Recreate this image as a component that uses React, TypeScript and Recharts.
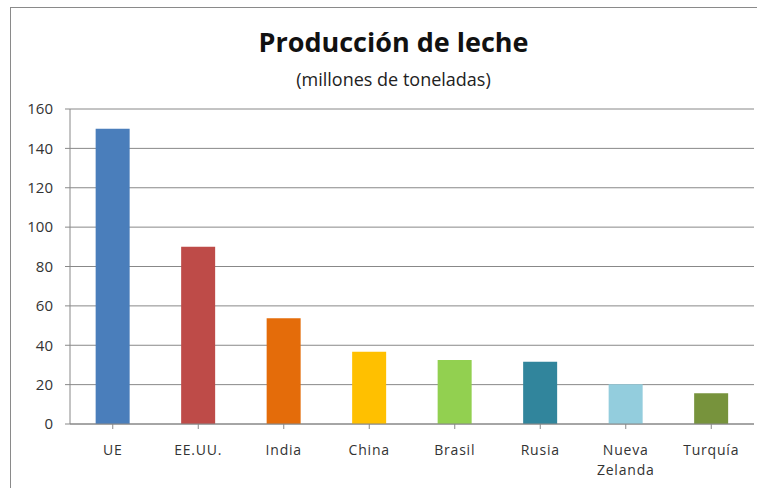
import React from "react";
import { BarChart, Bar, XAxis, YAxis, CartesianGrid, Cell } from "recharts";

const categories = ["UE", "EE.UU.", "India", "China", "Brasil", "Rusia", "Nueva Zelanda", "Turquía"];
const values = [150, 90, 53.7, 36.7, 32.5, 31.6, 20.2, 15.6];
const colors = ["#4a7ebb", "#be4b48", "#e46c0a", "#ffc000", "#92d050", "#31859c", "#93cddd", "#77933c"];
const yTicks = [0, 20, 40, 60, 80, 100, 120, 140, 160];

const data = categories.map((c, i) => ({ name: c, value: values[i] }));

const FONT = "'Open Sans', 'Noto Sans', sans-serif";

const XTick = (props: any) => {
  const { x, y, payload } = props;
  const lines = String(payload.value).split(" ");
  return (
    <text x={x} y={y} textAnchor="middle" fill="#333" fontSize={14} fontFamily={FONT} letterSpacing={0.8}>
      {lines.map((l: string, i: number) => (
        <tspan key={i} x={x} dy={20}>
          {l}
        </tspan>
      ))}
    </text>
  );
};

export default function App() {
  return (
    <div style={{ position: "absolute", left: 0, top: 0, width: 757, height: 488, background: "#fff", overflow: "hidden" }}>
      <div
        style={{
          position: "absolute",
          left: 10,
          top: 7,
          width: 800,
          height: 600,
          border: "1px solid #8a8a8a",
        }}
      />
      <div
        style={{
          position: "absolute",
          left: 0,
          width: 787,
          top: 23,
          textAlign: "center",
          fontFamily: FONT,
          fontWeight: 700,
          fontSize: 27,
          color: "#111",
          whiteSpace: "nowrap",
        }}
      >
        Producción de leche
      </div>
      <div
        style={{
          position: "absolute",
          left: 0,
          width: 787,
          top: 67,
          textAlign: "center",
          fontFamily: FONT,
          fontSize: 18,
          color: "#222",
          whiteSpace: "nowrap",
        }}
      >
        (millones de toneladas)
      </div>
      <div style={{ position: "absolute", left: 0, top: 0 }}>
        <BarChart
          width={757}
          height={488}
          data={data}
          margin={{ top: 109, right: 3, left: 0, bottom: 14 }}
          barCategoryGap="30%"
        >
          <CartesianGrid vertical={false} stroke="#888" strokeWidth={1} />
          <XAxis
            dataKey="name"
            height={50}
            interval={0}
            stroke="#888"
            tickSize={5}
            tickLine={{ stroke: "#888" }}
            tick={<XTick />}
            tickMargin={6}
          />
          <YAxis
            width={70}
            domain={[0, 160]}
            ticks={yTicks}
            stroke="#888"
            tickSize={5}
            tickMargin={12}
            tick={{ fill: "#333", fontSize: 15, fontFamily: FONT }}
          />
          <Bar dataKey="value" isAnimationActive={false}>
            {data.map((d, i) => (
              <Cell key={d.name} fill={colors[i]} />
            ))}
          </Bar>
        </BarChart>
      </div>
    </div>
  );
}
